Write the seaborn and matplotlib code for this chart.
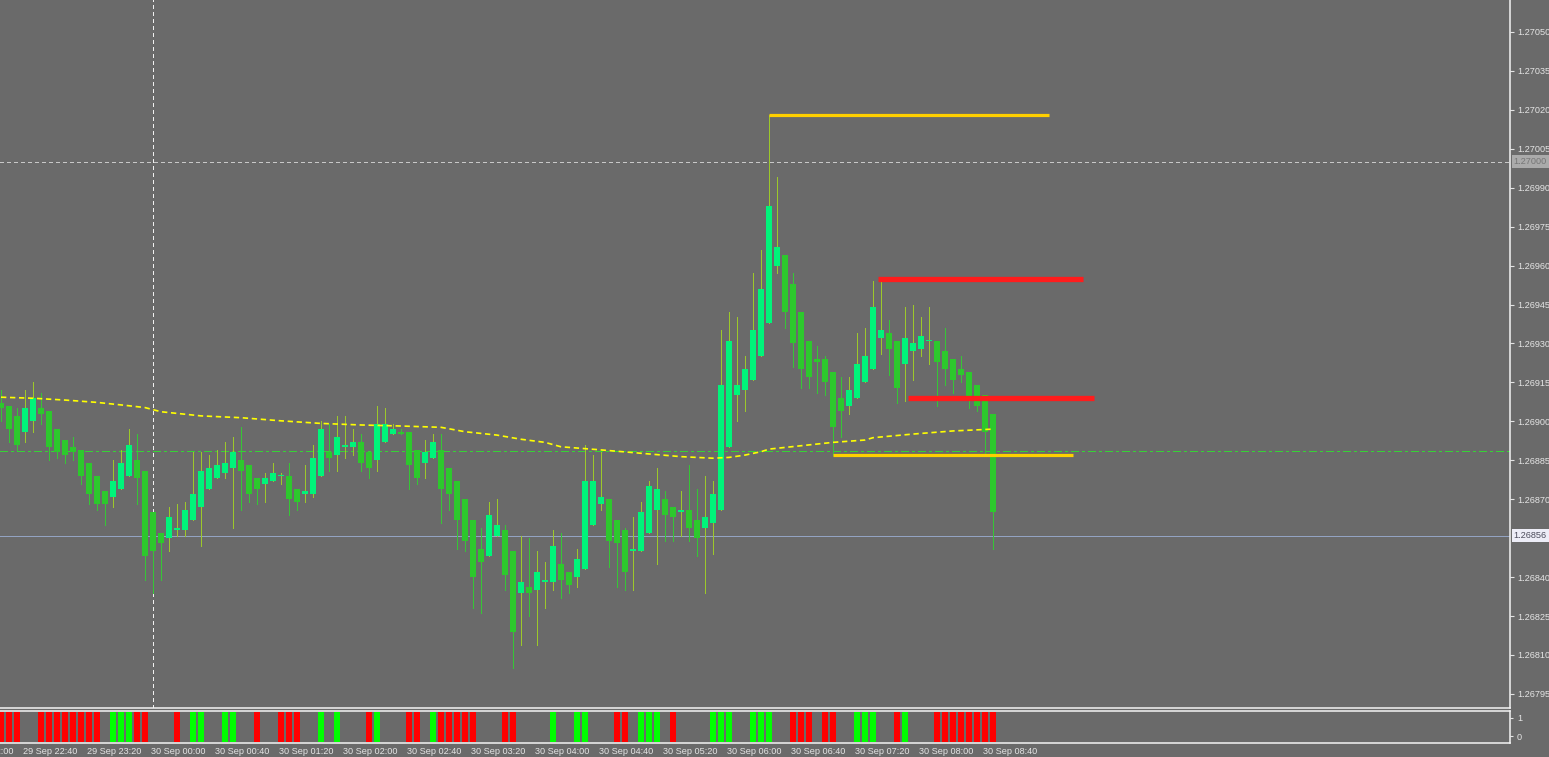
import numpy as np
import pandas as pd
import matplotlib
matplotlib.use("Agg")
import matplotlib.pyplot as plt
import matplotlib.transforms as mtransforms
import seaborn as sns

# 5-minute candles, 29 Sep 22:25 -> 30 Sep 08:45
opens = [1.26907, 1.26906, 1.26902, 1.26896, 1.26900, 1.26905, 1.26904, 1.26897, 1.26893, 1.26890,
         1.26889, 1.26884, 1.26879, 1.26873, 1.26871, 1.26874, 1.26879, 1.26885, 1.26881, 1.26865,
         1.26857, 1.26855, 1.26858, 1.26858, 1.26862, 1.26867, 1.26874, 1.26878, 1.26880, 1.26882,
         1.26885, 1.26883, 1.26878, 1.26876, 1.26877, 1.26879, 1.26879, 1.26874, 1.26872, 1.26872,
         1.26879, 1.26888, 1.26887, 1.26890, 1.26890, 1.26892, 1.26888, 1.26885, 1.26892, 1.26895,
         1.26896, 1.26896, 1.26889, 1.26884, 1.26886, 1.26889, 1.26882, 1.26877, 1.26870, 1.26862,
         1.26851, 1.26848, 1.26856, 1.26858, 1.26850, 1.26834, 1.26836, 1.26835, 1.26838, 1.26838,
         1.26845, 1.26842, 1.26840, 1.26843, 1.26860, 1.26868, 1.26870, 1.26862, 1.26858, 1.26850,
         1.26850, 1.26857, 1.26866, 1.26870, 1.26867, 1.26865, 1.26866, 1.26862, 1.26859, 1.26861,
         1.26866, 1.26890, 1.26910, 1.26912, 1.26916, 1.26925, 1.26938, 1.26960, 1.26964, 1.26953,
         1.26942, 1.26931, 1.26924, 1.26924, 1.26919, 1.26909, 1.26906, 1.26909, 1.26915, 1.26920,
         1.26932, 1.26934, 1.26931, 1.26922, 1.26927, 1.26928, 1.26931, 1.26931, 1.26927, 1.26924,
         1.26920, 1.26919, 1.26914, 1.26910, 1.26903]
highs = [1.26912, 1.26906, 1.26905, 1.26912, 1.26915, 1.26911, 1.26904, 1.26897, 1.26893, 1.26894,
         1.26889, 1.26884, 1.26879, 1.26873, 1.26885, 1.26889, 1.26897, 1.26895, 1.26881, 1.26865,
         1.26857, 1.26867, 1.26868, 1.26869, 1.26888, 1.26888, 1.26887, 1.26889, 1.26892, 1.26894,
         1.26898, 1.26883, 1.26878, 1.26880, 1.26884, 1.26880, 1.26884, 1.26874, 1.26883, 1.26891,
         1.26900, 1.26899, 1.26902, 1.26902, 1.26897, 1.26895, 1.26888, 1.26906, 1.26905, 1.26899,
         1.26897, 1.26896, 1.26889, 1.26893, 1.26895, 1.26895, 1.26882, 1.26877, 1.26870, 1.26862,
         1.26859, 1.26869, 1.26870, 1.26860, 1.26850, 1.26856, 1.26855, 1.26850, 1.26846, 1.26858,
         1.26857, 1.26842, 1.26851, 1.26891, 1.26887, 1.26888, 1.26870, 1.26862, 1.26859, 1.26863,
         1.26869, 1.26877, 1.26882, 1.26873, 1.26867, 1.26873, 1.26883, 1.26874, 1.26879, 1.26877,
         1.26935, 1.26942, 1.26940, 1.26925, 1.26957, 1.26966, 1.27018, 1.26994, 1.26964, 1.26957,
         1.26942, 1.26931, 1.26929, 1.26925, 1.26919, 1.26917, 1.26917, 1.26934, 1.26936, 1.26954,
         1.26954, 1.26939, 1.26931, 1.26944, 1.26945, 1.26940, 1.26944, 1.26931, 1.26936, 1.26924,
         1.26925, 1.26919, 1.26914, 1.26910, 1.26903]
lows = [1.26900, 1.26892, 1.26889, 1.26892, 1.26896, 1.26899, 1.26885, 1.26886, 1.26884, 1.26885,
        1.26876, 1.26868, 1.26866, 1.26860, 1.26867, 1.26874, 1.26879, 1.26868, 1.26839, 1.26834,
        1.26839, 1.26850, 1.26856, 1.26856, 1.26862, 1.26852, 1.26874, 1.26878, 1.26878, 1.26859,
        1.26866, 1.26869, 1.26868, 1.26869, 1.26877, 1.26876, 1.26864, 1.26866, 1.26869, 1.26871,
        1.26879, 1.26881, 1.26881, 1.26886, 1.26887, 1.26881, 1.26878, 1.26881, 1.26892, 1.26895,
        1.26895, 1.26874, 1.26876, 1.26878, 1.26886, 1.26861, 1.26866, 1.26851, 1.26850, 1.26828,
        1.26826, 1.26848, 1.26856, 1.26835, 1.26805, 1.26814, 1.26825, 1.26814, 1.26828, 1.26835,
        1.26832, 1.26834, 1.26836, 1.26843, 1.26860, 1.26866, 1.26844, 1.26836, 1.26835, 1.26835,
        1.26850, 1.26857, 1.26845, 1.26854, 1.26854, 1.26856, 1.26854, 1.26848, 1.26834, 1.26849,
        1.26866, 1.26890, 1.26900, 1.26904, 1.26916, 1.26925, 1.26938, 1.26957, 1.26936, 1.26921,
        1.26913, 1.26913, 1.26911, 1.26910, 1.26887, 1.26894, 1.26903, 1.26909, 1.26915, 1.26920,
        1.26926, 1.26918, 1.26907, 1.26908, 1.26916, 1.26925, 1.26922, 1.26906, 1.26914, 1.26911,
        1.26915, 1.26905, 1.26904, 1.26887, 1.26851]
closes = [1.26905, 1.26897, 1.26891, 1.26905, 1.26909, 1.26903, 1.26890, 1.26888, 1.26887, 1.26888,
          1.26879, 1.26872, 1.26868, 1.26868, 1.26877, 1.26884, 1.26891, 1.26878, 1.26848, 1.26850,
          1.26853, 1.26863, 1.26859, 1.26866, 1.26872, 1.26881, 1.26882, 1.26883, 1.26884, 1.26888,
          1.26881, 1.26872, 1.26874, 1.26878, 1.26880, 1.26879, 1.26870, 1.26869, 1.26873, 1.26886,
          1.26897, 1.26886, 1.26894, 1.26891, 1.26892, 1.26884, 1.26882, 1.26899, 1.26899, 1.26897,
          1.26895, 1.26883, 1.26878, 1.26888, 1.26892, 1.26874, 1.26872, 1.26862, 1.26854, 1.26840,
          1.26846, 1.26864, 1.26860, 1.26841, 1.26819, 1.26838, 1.26834, 1.26842, 1.26839, 1.26852,
          1.26839, 1.26837, 1.26847, 1.26877, 1.26877, 1.26871, 1.26854, 1.26853, 1.26842, 1.26851,
          1.26865, 1.26875, 1.26874, 1.26864, 1.26863, 1.26866, 1.26859, 1.26855, 1.26863, 1.26872,
          1.26914, 1.26931, 1.26914, 1.26920, 1.26935, 1.26951, 1.26983, 1.26967, 1.26942, 1.26930,
          1.26920, 1.26917, 1.26923, 1.26915, 1.26898, 1.26904, 1.26912, 1.26922, 1.26925, 1.26944,
          1.26935, 1.26928, 1.26913, 1.26932, 1.26930, 1.26933, 1.26931, 1.26923, 1.26920, 1.26916,
          1.26918, 1.26909, 1.26906, 1.26896, 1.26865]

# moving average read at some candles
ma_idx = [0, 4, 8, 12, 16, 18, 20, 25, 30, 35, 40, 45, 50, 55, 58, 62, 65, 68, 70, 75,
          80, 85, 89, 91, 93, 95, 96, 100, 104, 108, 109, 114, 119, 124]
ma_val = [1.269093, 1.269089, 1.269082, 1.269073, 1.269060, 1.269053, 1.269037, 1.269021,
          1.269014, 1.269002, 1.268992, 1.268986, 1.268982, 1.268977, 1.268960, 1.268947,
          1.268931, 1.268919, 1.268902, 1.268890, 1.268877, 1.268864, 1.268858, 1.268861,
          1.268870, 1.268883, 1.268893, 1.268906, 1.268919, 1.268928, 1.268937, 1.268951,
          1.268963, 1.268970]

# signal histogram: 1 green, -1 red, 0 empty
signal = [-1, -1, -1, 0, 0, -1, -1, -1, -1, -1,
          -1, -1, -1, 0, 1, 1, 1, -1, -1, 0,
          0, 0, -1, 0, 1, 1, 0, 0, 1, 1,
          0, 0, -1, 0, 0, -1, -1, -1, 0, 0,
          1, 0, 1, 0, 0, 0, -1, 1, 0, 0,
          0, -1, -1, 0, 1, -1, -1, -1, -1, -1,
          0, 0, 0, -1, -1, 0, 0, 0, 0, 1,
          0, 0, 1, 1, 0, 0, 0, -1, -1, 0,
          1, 1, 1, 0, -1, 0, 0, 0, 0, 1,
          1, 1, 0, 0, 1, 1, 1, 0, 0, -1,
          -1, -1, 0, -1, -1, 0, 0, 1, 1, 1,
          0, 0, -1, 1, 0, 0, 0, -1, -1, -1,
          -1, -1, -1, -1, -1]

# level lines: (first candle, last candle, price)
gold_levels = [(96, 131, 1.27018), (104, 134, 1.26887)]
red_levels = [(109.6, 135.2, 1.26955), (113.4, 136.6, 1.26909)]

price_ticks = [1.26795, 1.26810, 1.26825, 1.26840, 1.26870, 1.26885, 1.26900, 1.26915,
               1.26930, 1.26945, 1.26960, 1.26975, 1.26990, 1.27005, 1.27020, 1.27035, 1.27050]
grid_price = 1.27000
bid_price = 1.26856
dashdot_price = 1.268886
session_idx = 19

time_idx = [-5, 3, 11, 19, 27, 35, 43, 51, 59, 67, 75, 83, 91, 99, 107, 115, 123]
time_labels = ["29 Sep 22:00", "29 Sep 22:40", "29 Sep 23:20", "30 Sep 00:00", "30 Sep 00:40",
               "30 Sep 01:20", "30 Sep 02:00", "30 Sep 02:40", "30 Sep 03:20", "30 Sep 04:00",
               "30 Sep 04:40", "30 Sep 05:20", "30 Sep 06:00", "30 Sep 06:40", "30 Sep 07:20",
               "30 Sep 08:00", "30 Sep 08:40"]

BG = "#6a6a6a"
FG = "#e4e4e4"
BULL = "#00f47a"
BEAR = "#2dc82d"
BULL_WICK = "#9cc82a"
BEAR_WICK = "#36c636"
FS = 6.6

sns.set_style("dark", {"axes.facecolor": BG, "figure.facecolor": BG})
plt.rcParams["font.family"] = ["Liberation Sans", "DejaVu Sans"]

df = pd.DataFrame({"o": opens, "h": highs, "l": lows, "c": closes})
df["i"] = np.arange(len(df))
df["bull"] = df["c"] >= df["o"]

fig = plt.figure(figsize=(15.49, 7.57), dpi=100)
W, H = 1549.0, 757.0
ax = fig.add_axes([0, (H - 708) / H, 1510 / W, 708 / H])
ax2 = fig.add_axes([0, (H - 743) / H, 1510 / W, 32 / H], sharex=ax)

# candles
ax.vlines(df["i"], df["l"], df["h"],
          colors=np.where(df["bull"], BULL_WICK, BEAR_WICK), lw=0.72,
          antialiased=False, zorder=3)
body_lo = np.minimum(df["o"], df["c"])
body_h = np.maximum(np.abs(df["c"] - df["o"]), 0.000004)
ax.bar(df["i"], body_h, bottom=body_lo, width=0.68,
       color=np.where(df["bull"], BULL, BEAR), linewidth=0,
       antialiased=False, zorder=4)

# moving average
sns.lineplot(x=ma_idx, y=ma_val, ax=ax, color="#ffff00", lw=1.2,
             linestyle=(0, (3.2, 2.2)), zorder=5)

# horizontal levels
for x0, x1, p in gold_levels:
    ax.hlines(p, x0, x1, color="#ffd000", lw=2.3, zorder=6)
for x0, x1, p in red_levels:
    ax.hlines(p, x0, x1, color="#ff1c1c", lw=3.8, zorder=6)

ax.axhline(grid_price, color="#c8c8c8", lw=0.72, ls=(0, (4, 3.5)), antialiased=False, zorder=2)
ax.axhline(bid_price, color="#93a3c2", lw=0.72, antialiased=False, zorder=2)
ax.axhline(dashdot_price, color="#36d236", lw=0.72, ls=(0, (7, 3.5, 2.5, 3.5)),
           antialiased=False, zorder=2)
ax.axvline(session_idx, color="#f0f0f0", lw=0.72, ls=(0, (3, 3)), antialiased=False, zorder=2)

y_top = 1.270623
y_bot = y_top - 708 * 0.000003852
ax.set_ylim(y_bot, y_top)
ax.set_xlim(-0.125, 1509 / 8)

ax.yaxis.tick_right()
ax.set_yticks(price_ticks)
ax.set_yticklabels([f"{p:.5f}" for p in price_ticks])
ax.tick_params(axis="y", colors=FG, labelcolor=FG, labelsize=FS, length=3,
               width=0.8, pad=2, direction="out")
ax.tick_params(axis="x", bottom=False, labelbottom=False)
for s in ["left", "top"]:
    ax.spines[s].set_visible(False)
for s in ["right", "bottom"]:
    ax.spines[s].set_color("#f4f4f4")
    ax.spines[s].set_linewidth(1.1)
ax.set_xlabel("")
ax.set_ylabel("")
ax.grid(False)

# price boxes on the scale
lbl_tr = mtransforms.blended_transform_factory(ax.transAxes, ax.transData)
ax.text(1.0025, grid_price, "1.27000", transform=lbl_tr, fontsize=FS, color="#767676",
        va="center", ha="left", clip_on=False,
        bbox=dict(boxstyle="square,pad=0.2", fc="#aaaaaa", ec="none"))
ax.text(1.0025, bid_price, "1.26856", transform=lbl_tr, fontsize=FS, color="#4c4c5c",
        va="center", ha="left", clip_on=False,
        bbox=dict(boxstyle="square,pad=0.2", fc="#ededf7", ec="none"))

# signal panel
sig = np.array(signal)
on = sig != 0
ax2.bar(df["i"][on], 1.6, bottom=-0.3, width=0.84,
        color=np.where(sig[on] > 0, "#00ff00", "#ff0000"), linewidth=0,
        antialiased=False)
ax2.set_ylim(-0.37, 1.37)
ax2.yaxis.tick_right()
ax2.set_yticks([0, 1])
ax2.set_yticklabels(["0", "1"])
ax2.tick_params(axis="y", colors=FG, labelcolor=FG, labelsize=FS, length=2, pad=3)
ax2.spines["left"].set_visible(False)
for s in ["right", "bottom", "top"]:
    ax2.spines[s].set_color("#f4f4f4")
    ax2.spines[s].set_linewidth(1.1)
ax2.grid(False)

ax2.set_xticks([t for t in time_idx if t >= 0])
ax2.tick_params(axis="x", colors="#f4f4f4", length=3, width=0.8, labelbottom=False)
lbl_tr2 = mtransforms.blended_transform_factory(ax2.transData, ax2.transAxes)
for t, s in zip(time_idx, time_labels):
    ax2.text(t - 0.2, -0.28, s, transform=lbl_tr2, fontsize=FS, color=FG,
             ha="left", va="center", clip_on=False)

fig.savefig("out.png", dpi=100, facecolor=BG)
